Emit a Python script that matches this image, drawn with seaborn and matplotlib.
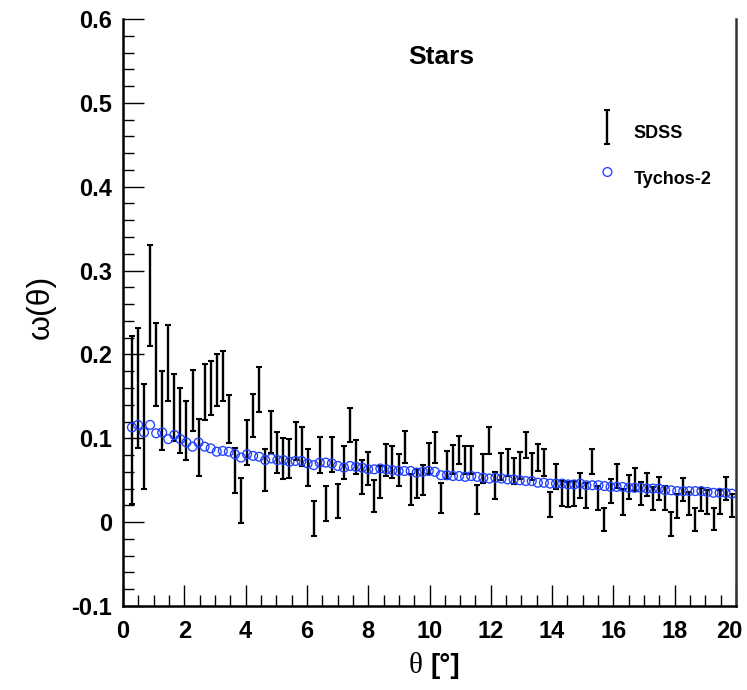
import numpy as np
import pandas as pd
import matplotlib
matplotlib.use("Agg")
import matplotlib.pyplot as plt
import seaborn as sns
from matplotlib.ticker import MultipleLocator, FuncFormatter
from matplotlib.legend_handler import HandlerErrorbar
from matplotlib.container import ErrorbarContainer

# Angular bin centres (degrees)
theta = np.linspace(0.29, 19.86, 100)

# SDSS star angular correlation and its 1-sigma errors
sdss_w = [
    0.122, 0.160, 0.102, 0.270, 0.188, 0.133, 0.190, 0.137, 0.121, 0.109,
    0.145, 0.089, 0.155, 0.160, 0.169, 0.174, 0.123, 0.062, 0.026, 0.095,
    0.127, 0.158, 0.062, 0.107, 0.083, 0.076, 0.076, 0.097, 0.090, 0.065,
    0.004, 0.080, 0.022, 0.081, 0.025, 0.071, 0.116, 0.078, 0.054, 0.064,
    0.031, 0.048, 0.074, 0.072, 0.062, 0.090, 0.039, 0.046, 0.050, 0.076,
    0.089, 0.029, 0.068, 0.075, 0.086, 0.074, 0.074, 0.027, 0.064, 0.097,
    0.044, 0.066, 0.071, 0.061, 0.068, 0.092, 0.066, 0.077, 0.071, 0.021,
    0.054, 0.034, 0.033, 0.034, 0.044, 0.032, 0.072, 0.029, 0.003, 0.037,
    0.055, 0.024, 0.042, 0.051, 0.034, 0.045, 0.028, 0.040, 0.029, -0.002,
    0.019, 0.039, 0.022, 0.003, 0.027, 0.024, 0.004, 0.024, 0.040, 0.020,
]
sdss_err = [
    0.100, 0.071, 0.063, 0.060, 0.050, 0.047, 0.045, 0.040, 0.039, 0.035,
    0.036, 0.034, 0.033, 0.032, 0.031, 0.030, 0.029, 0.027, 0.027, 0.027,
    0.026, 0.027, 0.025, 0.025, 0.024, 0.024, 0.023, 0.023, 0.023, 0.022,
    0.021, 0.021, 0.021, 0.021, 0.020, 0.020, 0.020, 0.020, 0.020, 0.020,
    0.019, 0.019, 0.019, 0.019, 0.019, 0.019, 0.018, 0.017, 0.018, 0.018,
    0.018, 0.018, 0.017, 0.017, 0.017, 0.017, 0.017, 0.017, 0.017, 0.016,
    0.016, 0.016, 0.016, 0.016, 0.016, 0.016, 0.016, 0.016, 0.016, 0.015,
    0.015, 0.015, 0.015, 0.015, 0.015, 0.015, 0.015, 0.014, 0.014, 0.014,
    0.014, 0.015, 0.014, 0.014, 0.014, 0.014, 0.014, 0.014, 0.014, 0.014,
    0.014, 0.014, 0.014, 0.014, 0.014, 0.014, 0.013, 0.014, 0.014, 0.014,
]

# Tycho-2 star angular correlation
tycho_w = [
    0.113, 0.116, 0.107, 0.116, 0.106, 0.107, 0.099, 0.104, 0.099, 0.095,
    0.090, 0.095, 0.090, 0.088, 0.084, 0.085, 0.084, 0.081, 0.077, 0.081,
    0.079, 0.078, 0.074, 0.076, 0.074, 0.074, 0.072, 0.073, 0.073, 0.070,
    0.068, 0.071, 0.071, 0.070, 0.067, 0.065, 0.067, 0.066, 0.065, 0.063,
    0.063, 0.064, 0.063, 0.062, 0.061, 0.061, 0.061, 0.059, 0.060, 0.061,
    0.060, 0.056, 0.056, 0.055, 0.055, 0.054, 0.055, 0.054, 0.053, 0.052,
    0.053, 0.052, 0.051, 0.051, 0.050, 0.049, 0.049, 0.047, 0.047, 0.046,
    0.046, 0.046, 0.045, 0.045, 0.046, 0.044, 0.044, 0.044, 0.043, 0.042,
    0.042, 0.042, 0.041, 0.041, 0.041, 0.040, 0.040, 0.040, 0.038, 0.038,
    0.037, 0.037, 0.037, 0.037, 0.037, 0.036, 0.035, 0.035, 0.035, 0.034,
]

# Axis tick values
x_ticks = [0, 2, 4, 6, 8, 10, 12, 14, 16, 18, 20]
y_ticks = [-0.1, 0.0, 0.1, 0.2, 0.3, 0.4, 0.5, 0.6]

df = pd.DataFrame({"theta": theta, "sdss": sdss_w, "err": sdss_err, "tycho": tycho_w})

sns.set_style("ticks")
plt.rcParams["font.family"] = ["Liberation Sans", "DejaVu Sans"]
plt.rcParams["text.color"] = "black"
plt.rcParams["axes.labelcolor"] = "black"
plt.rcParams["xtick.color"] = "black"
plt.rcParams["ytick.color"] = "black"

fig = plt.figure(figsize=(7.47, 6.9), dpi=100)
ax = fig.add_axes([0.1647, 0.1217, 0.8206, 0.8508])

ax.errorbar(df["theta"], df["sdss"], yerr=df["err"], fmt="none",
            ecolor="black", elinewidth=1.7, capsize=2.0, capthick=1.5,
            label="SDSS", zorder=2)
sns.scatterplot(data=df, x="theta", y="tycho", ax=ax, marker="o", s=40,
                facecolor="none", edgecolor="#1f40ff", linewidth=0.95,
                label="Tychos-2", zorder=3)

ax.set_xlim(x_ticks[0], x_ticks[-1])
ax.set_ylim(y_ticks[0], y_ticks[-1])
ax.set_xticks(x_ticks)
ax.set_yticks(y_ticks)
ax.xaxis.set_minor_locator(MultipleLocator(0.5))
ax.yaxis.set_minor_locator(MultipleLocator(0.02))
ax.yaxis.set_major_formatter(FuncFormatter(lambda v, p: "0" if abs(v) < 1e-9 else f"{v:.1f}"))
# the right-most label is drawn separately so it stays inside the canvas
ax.xaxis.set_major_formatter(FuncFormatter(
    lambda v, p: "" if abs(v - x_ticks[-1]) < 1e-9 else f"{v:.0f}"))

ax.tick_params(which="both", direction="in", top=False, right=False, color="black", width=1)
ax.tick_params(which="major", length=15)
ax.tick_params(which="minor", length=8)
ax.tick_params(axis="y", which="major", pad=8, labelsize=17)
ax.tick_params(axis="x", which="major", pad=10, labelsize=17)
for lab in ax.get_yticklabels():
    lab.set_fontweight("bold")
for lab in ax.get_xticklabels():
    lab.set_fontweight("bold")
ax.annotate(f"{x_ticks[-1]}", xy=(1, 0), xycoords="axes fraction",
            xytext=(-5, -10), textcoords="offset points",
            ha="center", va="top", fontsize=17, fontweight="bold")

for side in ["left", "bottom", "right"]:
    ax.spines[side].set_linewidth(1.8)
ax.spines["left"].set_color("black")
ax.spines["bottom"].set_color("black")
ax.spines["right"].set_color("#333333")
ax.spines["top"].set_visible(False)

ax.set_xlabel("")
ax.set_ylabel("ω(θ)", fontsize=23)
ax.yaxis.set_label_coords(-0.11, 0.51)

ax.text(0.488, -0.103, "θ", transform=ax.transAxes, ha="right", va="center",
        fontsize=21, family=["Liberation Serif", "DejaVu Serif"])
ax.text(0.502, -0.103, "[°]", transform=ax.transAxes, ha="left", va="center",
        fontsize=20, fontweight="bold")

ax.text(0.519, 0.935, "Stars", transform=ax.transAxes, ha="center", va="center",
        fontsize=19, fontweight="bold")

handles, labels = ax.get_legend_handles_labels()
order = [labels.index("SDSS"), labels.index("Tychos-2")]
ax.legend([handles[i] for i in order], [labels[i] for i in order],
          loc="upper left", bbox_to_anchor=(0.749, 0.862), frameon=False,
          handlelength=1.0, handleheight=2.4, handletextpad=0.95,
          labelspacing=0.75, prop={"weight": "bold", "size": 13},
          handler_map={ErrorbarContainer: HandlerErrorbar(yerr_size=0.95)})

fig.savefig("out.png", dpi=100)
